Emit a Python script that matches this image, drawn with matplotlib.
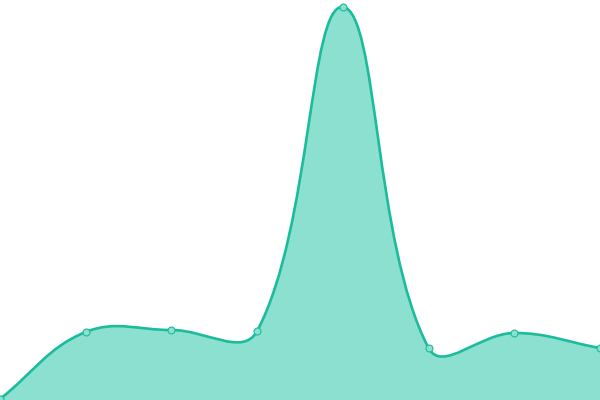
import matplotlib
matplotlib.use("Agg")
import matplotlib.pyplot as plt
import numpy as np
from matplotlib.path import Path
from matplotlib.patches import PathPatch

# values (chart spans 0..400 on y)
labels = ["A", "B", "C", "D", "E", "F", "G", "H"]
values = [1, 68, 70, 69, 393, 52, 67, 52]

LINE = "#1abc9c"
FILL = "#8ce0cf"
TENSION = 0.4

W, H = 600, 400
fig = plt.figure(figsize=(W / 100, H / 100), dpi=100)
ax = fig.add_axes([0, 0, 1, 1])
ax.set_xlim(0, len(values) - 1)
ax.set_ylim(0, 400)
ax.axis("off")

x = np.arange(len(values), dtype=float)
y = np.array(values, dtype=float)

# work in pixel space so the tension behaves like a canvas spline
sx = W / (len(values) - 1)
sy = H / 400
px, py = x * sx, y * sy


def control_points(px, py, t):
    n = len(px)
    cps = []
    for i in range(n):
        p0 = (px[max(i - 1, 0)], py[max(i - 1, 0)])
        p1 = (px[i], py[i])
        p2 = (px[min(i + 1, n - 1)], py[min(i + 1, n - 1)])
        d01 = np.hypot(p1[0] - p0[0], p1[1] - p0[1])
        d12 = np.hypot(p2[0] - p1[0], p2[1] - p1[1])
        tot = d01 + d12 if d01 + d12 else 1
        fa = t * d01 / tot
        fb = t * d12 / tot
        prev_cp = (p1[0] - fa * (p2[0] - p0[0]), p1[1] - fa * (p2[1] - p0[1]))
        next_cp = (p1[0] + fb * (p2[0] - p0[0]), p1[1] + fb * (p2[1] - p0[1]))
        clip = lambda c: (min(max(c[0], 0), W), min(max(c[1], 0), H))
        cps.append((clip(prev_cp), clip(next_cp)))
    return cps


cps = control_points(px, py, TENSION)
verts = [(px[0], py[0])]
codes = [Path.MOVETO]
for i in range(1, len(px)):
    verts += [cps[i - 1][1], cps[i][0], (px[i], py[i])]
    codes += [Path.CURVE4] * 3
verts = [(vx / sx, vy / sy) for vx, vy in verts]

line_path = Path(verts, codes)
fill_path = Path(verts + [(x[-1], 0), (x[0], 0), verts[0]],
                 codes + [Path.LINETO, Path.LINETO, Path.CLOSEPOLY])

ax.add_patch(PathPatch(fill_path, facecolor=FILL, edgecolor="none"))
ax.add_patch(PathPatch(line_path, facecolor="none", edgecolor=LINE, lw=1.9))
ax.plot(x, y, "o", ms=5, mfc=FILL, mec=LINE, mew=0.8, clip_on=False)

fig.savefig("out.png", dpi=100)
